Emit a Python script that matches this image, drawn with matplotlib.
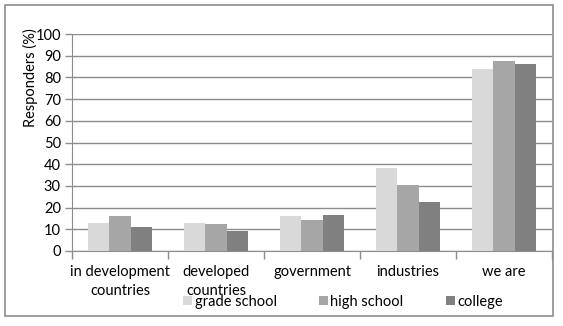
import matplotlib
matplotlib.use("Agg")
import matplotlib.pyplot as plt
import numpy as np
from matplotlib.patches import Rectangle

categories = ["in development\ncountries", "developed\ncountries", "government", "industries", "we are"]
series_names = ["grade school", "high school", "college"]
grade_school = [13.0, 13.0, 16.1, 38.2, 83.8]
high_school = [16.1, 12.4, 14.3, 30.4, 87.5]
college = [11.1, 9.4, 16.6, 22.6, 86.1]
yticks = [0, 10, 20, 30, 40, 50, 60, 70, 80, 90, 100]

colors = ["#d9d9d9", "#a6a6a6", "#808080"]
plt.rcParams['font.family'] = ['Lato', 'DejaVu Sans']

W, H = 563, 326
fig = plt.figure(figsize=(W / 100, H / 100), dpi=100)
ax = fig.add_axes([72 / W, 1 - 251 / H, (552 - 72) / W, (251 - 34) / H])

x = np.arange(len(categories))
bw = 0.22
for i, (vals, name) in enumerate(zip([grade_school, high_school, college], series_names)):
    ax.bar(x + (i - 1) * bw, vals, width=bw, color=colors[i], label=name, zorder=3)

ax.set_xlim(-0.5, len(categories) - 0.5)
ax.set_ylim(0, 100)
ax.set_yticks(yticks)
ax.set_yticklabels([str(t) for t in yticks], fontsize=10.5)
ax.yaxis.grid(True, color="#8c8c8c", linewidth=1.0, zorder=0)
ax.tick_params(axis='y', length=5, color="#8c8c8c", width=1, pad=3)

ax.set_xticks(x)
ax.set_xticklabels(categories, fontsize=10.5, linespacing=1.5)
ax.tick_params(axis='x', length=0, pad=10)
ax.set_xticks(np.arange(len(categories) + 1) - 0.5, minor=True)
ax.tick_params(axis='x', which='minor', length=6, color="#8c8c8c", width=1)

for s in ["top", "right"]:
    ax.spines[s].set_visible(False)
ax.spines["left"].set_color("#8c8c8c")
ax.spines["bottom"].set_color("#8c8c8c")

fig.text(30 / W, 1 - 78 / H, "Responders (%)", rotation=90, ha="center", va="center", fontsize=10.5)

fig.legend(loc="center", bbox_to_anchor=(343 / W, 1 - 302 / H), ncol=3, frameon=False,
           fontsize=10.5, handlelength=0.6, handleheight=0.6, handletextpad=0.2,
           columnspacing=2.9, borderaxespad=0)

fig.patches.append(Rectangle((5 / W, 1 - 316 / H), (553 - 5) / W, (316 - 5) / H,
                             transform=fig.transFigure, fill=False, edgecolor="#8c8c8c", linewidth=1.2))

fig.savefig("out.png", dpi=100)
